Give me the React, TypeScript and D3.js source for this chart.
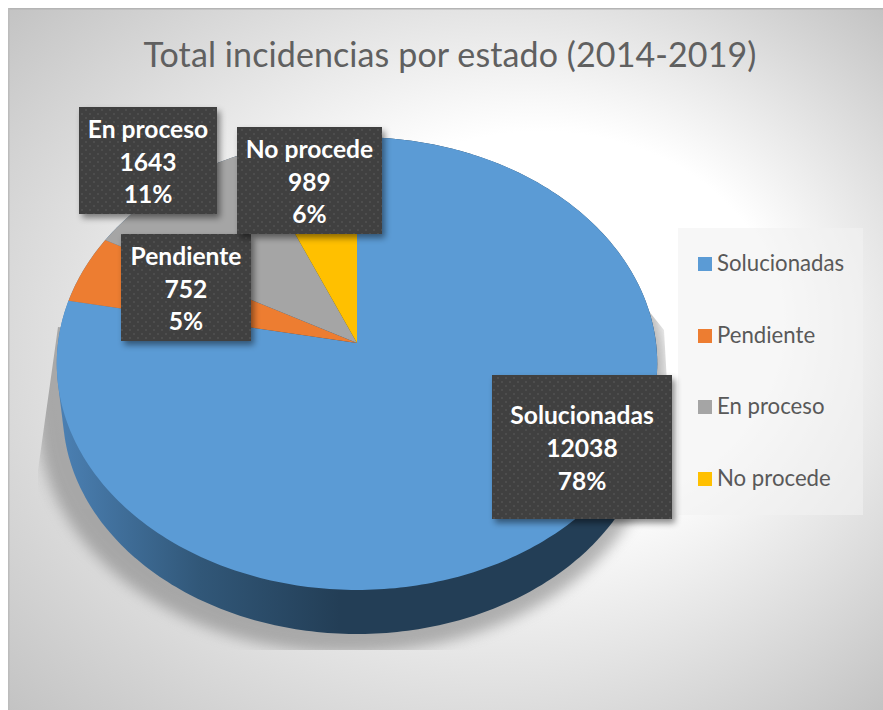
import React, { useMemo } from "react";
import * as d3 from "d3";

const categories = ["Solucionadas", "Pendiente", "En proceso", "No procede"];
const values = [12038, 752, 1643, 989];
const percents = ["78%", "5%", "11%", "6%"];
const colors = ["#5b9bd5", "#ed7d31", "#a5a5a5", "#ffc000"];
const titleText = "Total incidencias por estado (2014-2019)";

const labelBoxes = [
  { x: 492, y: 375, w: 180, h: 144 },
  { x: 121, y: 234, w: 130, h: 107 },
  { x: 79, y: 107, w: 138, h: 107 },
  { x: 237, y: 127, w: 145, h: 107 },
];
const legendY = [264, 336, 407, 479];

const W = 883;
const H = 710;
const APEX = { x: 357, y: 343 };
const A = 299;
const B = 224.6;
const K = 0.0905;
const DEPTH = 49;
const LOWER = 0.98;

type P = [number, number];
const project = (t: number): P => {
  const u = Math.sin(t);
  const v = Math.cos(t);
  const w = 1 + K * v;
  return [APEX.x + (A * u) / w, APEX.y - (B * v) / w];
};
const lower = (t: number): P => {
  const [x, y] = project(t);
  return [APEX.x + (x - APEX.x) * LOWER, APEX.y + DEPTH + (y - APEX.y) * LOWER];
};
const samples = (a: number, b: number) => {
  const n = Math.max(8, Math.ceil(Math.abs(b - a) * 60));
  return d3.range(n + 1).map((i) => a + ((b - a) * i) / n);
};

export default function App() {
  const geo = useMemo(() => {
    const pie = d3.pie<number>().sort(null).startAngle(0).endAngle(2 * Math.PI)(values);
    const line = d3.line<P>().curve(d3.curveLinear);
    const slices = pie.map((s) => {
      const pts: P[] = [[APEX.x, APEX.y], ...samples(s.startAngle, s.endAngle).map(project)];
      return line(pts) + "Z";
    });
    const full = samples(0, 2 * Math.PI);
    const hull = d3.polygonHull([...full.map(project), ...full.map(lower)]) as P[];
    const wall = line(hull) + "Z";
    const sh: P[] = hull.map(([x, y]) => [APEX.x - 8 + (x - APEX.x) * 1.055, APEX.y + 6 + (y - APEX.y) * 1.045]);
    const shadow = line(sh) + "Z";
    return { slices, wall, shadow };
  }, []);

  return (
    <svg width={W} height={H} style={{ position: "absolute", left: 0, top: 0, display: "block" }}>
      <defs>
        <radialGradient id="bg" cx={0.5} cy={0.5} r={0.7071} fx={0.677} fy={0.416}>
          <stop offset="0" stopColor="#ffffff" />
          <stop offset="0.385" stopColor="#ffffff" />
          <stop offset="1" stopColor="#c3c3c3" />
        </radialGradient>
        <linearGradient id="wallG" gradientUnits="userSpaceOnUse" x1={60} x2={340} y1={0} y2={0}>
          <stop offset="0" stopColor="#4b80b3" />
          <stop offset="0.5" stopColor="#315778" />
          <stop offset="1" stopColor="#233e56" />
        </linearGradient>
        <pattern id="dots" width={8} height={8} patternUnits="userSpaceOnUse">
          <rect width={8} height={8} fill="#404040" />
          <rect x={1} y={1} width={2} height={2} fill="#4e4e4e" />
          <rect x={5} y={5} width={2} height={2} fill="#4e4e4e" />
        </pattern>
        <filter id="blur" x="-10%" y="-10%" width="120%" height="120%">
          <feGaussianBlur stdDeviation={7} />
        </filter>
        <filter id="boxShadow" x="-15%" y="-15%" width="130%" height="130%">
          <feDropShadow dx={3} dy={4} stdDeviation={3} floodColor="#000" floodOpacity={0.45} />
        </filter>
        <clipPath id="shadowClip">
          <path d={d3.line()([[80, 330], [58, 327], [38, 470], [38, 650], [700, 650], [700, 500], [668, 400], [664, 330], [640, 300]] as P[]) + "Z"} />
        </clipPath>
      </defs>

      <rect x={8} y={8} width={W - 8} height={H - 8} fill="url(#bg)" />
      <rect x={8} y={8} width={W - 8} height={1.5} fill="#b4b4b4" />
      <rect x={8} y={8} width={1.5} height={H - 8} fill="#bcbcbc" />

      <text x={450} y={67} textAnchor="middle" fontFamily="Lato" fontSize={34} fill="#606060" style={{ letterSpacing: "0.1px" }}>
        {titleText}
      </text>

      <g clipPath="url(#shadowClip)">
        <path d={geo.shadow} fill="#7a7a7a" opacity={0.55} filter="url(#blur)" />
      </g>

      <path d={geo.wall} fill="url(#wallG)" />
      {geo.slices.map((d, i) => (
        <path key={categories[i]} d={d} fill={colors[i]} />
      ))}

      <rect x={678} y={228} width={185} height={287} fill="#f2f2f2" opacity={0.6} />
      {categories.map((c, i) => (
        <g key={c}>
          <rect x={698} y={legendY[i] - 7} width={14} height={14} fill={colors[i]} />
          <text x={717} y={legendY[i] + 7} fontFamily="Lato" fontSize={22.2} fill="#595959">
            {c}
          </text>
        </g>
      ))}

      {categories.map((c, i) => {
        const b = labelBoxes[i];
        const cx = b.x + b.w / 2;
        const mid = b.y + b.h / 2;
        const lines = [c, String(values[i]), percents[i]];
        return (
          <g key={c}>
            <rect x={b.x} y={b.y} width={b.w} height={b.h} fill="url(#dots)" filter="url(#boxShadow)" />
            {lines.map((t, j) => (
              <text key={j} x={cx} y={mid + (j - 1) * 32.6 + 10} textAnchor="middle" fontFamily="Lato" fontWeight={700} fontSize={24.6} fill="#ffffff">
                {t}
              </text>
            ))}
          </g>
        );
      })}
    </svg>
  );
}
